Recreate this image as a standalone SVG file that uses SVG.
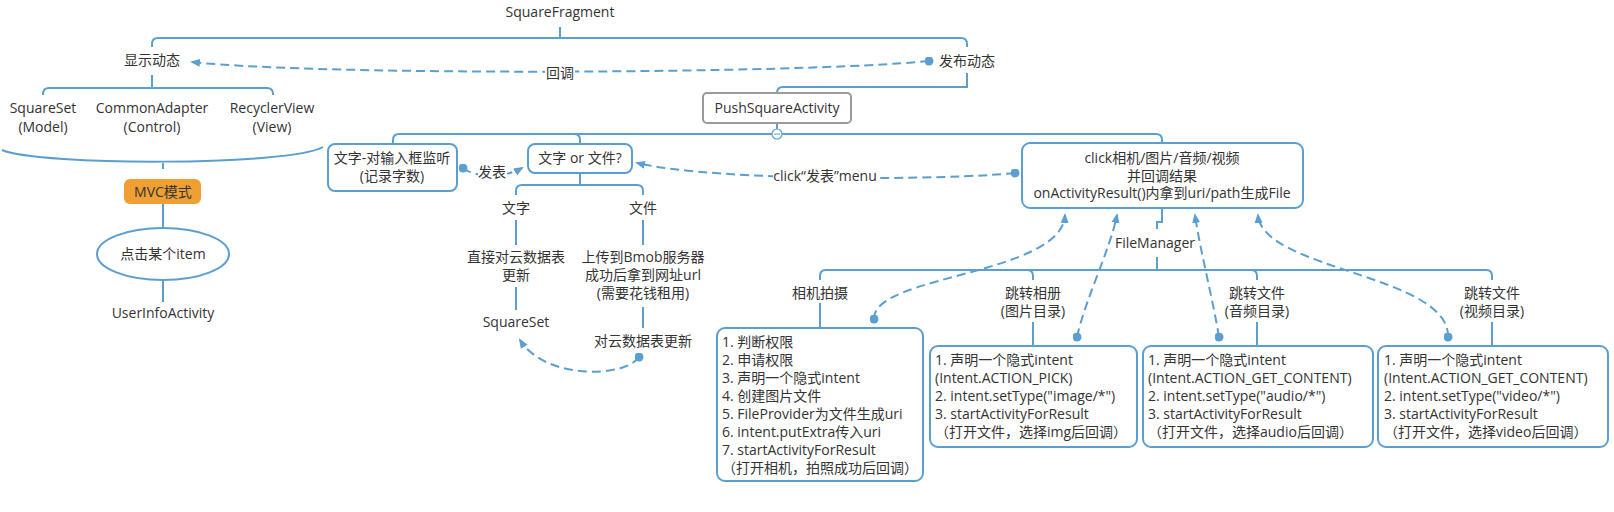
<svg xmlns="http://www.w3.org/2000/svg" width="1614" height="512" viewBox="0 0 1614 512">
<style>
text{font-family:'Open Sans','Noto Sans CJK SC',sans-serif;font-size:14px;fill:#333}
.c{text-anchor:middle}
.ln{fill:none;stroke:#5b9fd1;stroke-width:2}
.dash{fill:none;stroke:#5b9fd1;stroke-width:2;stroke-dasharray:9 5}
.box{fill:#fff;stroke:#5b9fd1;stroke-width:2}
.lbl{fill:#fff}
</style>
<defs>
<marker id="arr" viewBox="0 0 10 10" refX="8" refY="5" markerWidth="10" markerHeight="10" markerUnits="userSpaceOnUse" orient="auto"><path d="M0,1 L10,5 L0,9 z" fill="#5b9fd1"/></marker>
<marker id="dot" viewBox="0 0 10 10" refX="5" refY="5" markerWidth="9" markerHeight="9" markerUnits="userSpaceOnUse"><circle cx="5" cy="5" r="5" fill="#5b9fd1"/></marker>
</defs>
<rect width="1614" height="512" fill="#fff"/>
<g id="connectors">
<path class="ln" d="M560 27V38M152 47V44Q152 38 158 38H961Q967 38 967 44V47"/>
<path class="ln" d="M152 75V88M43 95V94Q43 88 49 88H267Q273 88 273 94V95"/>
<path class="ln" d="M2 150C40 166 290 166 323 147M163 163V169M163 204V228M163 280V302"/>
<path class="ln" d="M967 73V87H783Q777 87 777 93M777 123V129"/>
<path class="ln" d="M393 143V140Q393 134 399 134H772M782 134H1156Q1162 134 1162 140V143M574 134Q580 134 580 140V144"/>
<path class="ln" d="M580 173V185M516 195V191Q516 185 522 185H637Q643 185 643 191V195"/>
<path class="ln" d="M516 220V245M516 287V310M643 220V245M643 307V328"/>
<path class="ln" d="M1162 208V222H1157V229M1157 257V270M820 280V276Q820 270 826 270H1486Q1492 270 1492 276V280M1027 270Q1033 270 1033 276V280M1251 270Q1257 270 1257 276V280"/>
<path class="ln" d="M820 303V328M1033 322V346M1257 322V346M1492 322V346"/>
<path class="dash" d="M929 61C800 74 320 76 192 62" marker-start="url(#dot)" marker-end="url(#arr)"/>
<rect class="lbl" x="545" y="65" width="30" height="17"/>
<text class="c" x="560" y="78">回调</text>
<path class="dash" d="M463 168C475 178 505 178 522 168" marker-start="url(#dot)" marker-end="url(#arr)"/>
<rect class="lbl" x="478" y="164" width="29" height="17"/>
<text class="c" x="492" y="177">发表</text>
<path class="dash" d="M1015 173C950 180 720 182 637 163" marker-start="url(#dot)" marker-end="url(#arr)"/>
<rect class="lbl" x="773" y="168" width="104" height="17"/>
<text class="c" x="825" y="181">click“发表”menu</text>
<path class="dash" d="M639 357C625 378 545 380 520 340" marker-start="url(#dot)" marker-end="url(#arr)"/>
<path class="dash" d="M874 319C872 275 1062 275 1065 215" marker-start="url(#dot)" marker-end="url(#arr)"/>
<path class="dash" d="M1077 337C1085 300 1110 250 1117 215" marker-start="url(#dot)" marker-end="url(#arr)"/>
<path class="dash" d="M1219 337C1212 295 1200 250 1195 215" marker-start="url(#dot)" marker-end="url(#arr)"/>
<path class="dash" d="M1448 337C1450 275 1262 270 1258 215" marker-start="url(#dot)" marker-end="url(#arr)"/>
</g>
<g id="n-squarefragment"><text class="c" x="560" y="17">SquareFragment</text></g>
<g id="n-show"><text class="c" x="152" y="65">显示动态</text></g>
<g id="n-publish"><text class="c" x="967" y="66">发布动态</text></g>
<g id="n-squareset-model"><text class="c" x="43" y="113">SquareSet</text><text class="c" x="43" y="132">(Model)</text></g>
<g id="n-commonadapter"><text class="c" x="152" y="113">CommonAdapter</text><text class="c" x="152" y="132">(Control)</text></g>
<g id="n-recyclerview"><text class="c" x="272" y="113">RecyclerView</text><text class="c" x="272" y="132">(View)</text></g>
<g id="n-mvc"><rect x="124" y="179" width="77" height="25" rx="6" fill="#f0a033"/><text class="c" x="163" y="197">MVC模式</text></g>
<g id="n-click-item"><ellipse cx="163" cy="254" rx="66" ry="26" class="box"/><text class="c" x="163" y="259">点击某个item</text></g>
<g id="n-userinfo"><text class="c" x="163" y="318">UserInfoActivity</text></g>
<g id="n-push"><rect x="703" y="93" width="148" height="30" rx="4" fill="#fff" stroke="#9b9b9b" stroke-width="2"/><text class="c" x="777" y="113">PushSquareActivity</text>
<circle cx="777" cy="134" r="5" fill="#fff" stroke="#5b9fd1" stroke-width="1.2"/><path d="M774 134H780" stroke="#5b9fd1" stroke-width="1"/></g>
<g id="n-text-listen"><rect class="box" x="328" y="144" width="129" height="47" rx="7"/><text class="c" x="392" y="163">文字-对输入框监听</text><text class="c" x="392" y="181">(记录字数)</text></g>
<g id="n-text-or-file"><rect class="box" x="528" y="144" width="104" height="29" rx="7"/><text class="c" x="580" y="163">文字 or 文件?</text></g>
<g id="n-click-media"><rect class="box" x="1022" y="143" width="281" height="65" rx="8"/><text class="c" x="1162" y="163">click相机/图片/音频/视频</text><text class="c" x="1162" y="180.5">并回调结果</text><text class="c" x="1162" y="198">onActivityResult()内拿到uri/path生成File</text></g>
<g id="n-text"><text class="c" x="516" y="213">文字</text></g>
<g id="n-file"><text class="c" x="643" y="213">文件</text></g>
<g id="n-direct"><text class="c" x="516" y="262">直接对云数据表</text><text class="c" x="516" y="280">更新</text></g>
<g id="n-squareset"><text class="c" x="516" y="327">SquareSet</text></g>
<g id="n-upload"><text class="c" x="643" y="262">上传到Bmob服务器</text><text class="c" x="643" y="280">成功后拿到网址url</text><text class="c" x="643" y="298">(需要花钱租用)</text></g>
<g id="n-update"><text class="c" x="643" y="346">对云数据表更新</text></g>
<g id="n-filemanager"><text class="c" x="1155" y="248">FileManager</text></g>
<g id="n-camera"><text class="c" x="820" y="298">相机拍摄</text></g>
<g id="n-album"><text class="c" x="1033" y="298">跳转相册</text><text class="c" x="1033" y="316">(图片目录)</text></g>
<g id="n-audio"><text class="c" x="1257" y="298">跳转文件</text><text class="c" x="1257" y="316">(音频目录)</text></g>
<g id="n-video"><text class="c" x="1492" y="298">跳转文件</text><text class="c" x="1492" y="316">(视频目录)</text></g>
<g id="n-camera-steps"><rect class="box" x="717" y="328" width="206" height="153" rx="8"/>
<text x="722" y="347">1. 判断权限</text><text x="722" y="365">2. 申请权限</text><text x="722" y="383">3. 声明一个隐式intent</text><text x="722" y="401">4. 创建图片文件</text><text x="722" y="419">5. FileProvider为文件生成uri</text><text x="722" y="437">6. intent.putExtra传入uri</text><text x="722" y="455">7. startActivityForResult</text><text x="722" y="473">（打开相机，拍照成功后回调）</text></g>
<g id="n-album-steps"><rect class="box" x="930" y="346" width="207" height="101" rx="8"/>
<text x="935" y="365">1. 声明一个隐式intent</text><text x="935" y="383">(Intent.ACTION_PICK)</text><text x="935" y="401">2. intent.setType("image/*")</text><text x="935" y="419">3. startActivityForResult</text><text x="935" y="437">（打开文件，选择img后回调）</text></g>
<g id="n-audio-steps"><rect class="box" x="1143" y="346" width="230" height="101" rx="8"/>
<text x="1148" y="365">1. 声明一个隐式intent</text><text x="1148" y="383">(Intent.ACTION_GET_CONTENT)</text><text x="1148" y="401">2. intent.setType("audio/*")</text><text x="1148" y="419">3. startActivityForResult</text><text x="1148" y="437">（打开文件，选择audio后回调）</text></g>
<g id="n-video-steps"><rect class="box" x="1378" y="346" width="230" height="101" rx="8"/>
<text x="1384" y="365">1. 声明一个隐式intent</text><text x="1384" y="383">(Intent.ACTION_GET_CONTENT)</text><text x="1384" y="401">2. intent.setType("video/*")</text><text x="1384" y="419">3. startActivityForResult</text><text x="1384" y="437">（打开文件，选择video后回调）</text></g>
</svg>
